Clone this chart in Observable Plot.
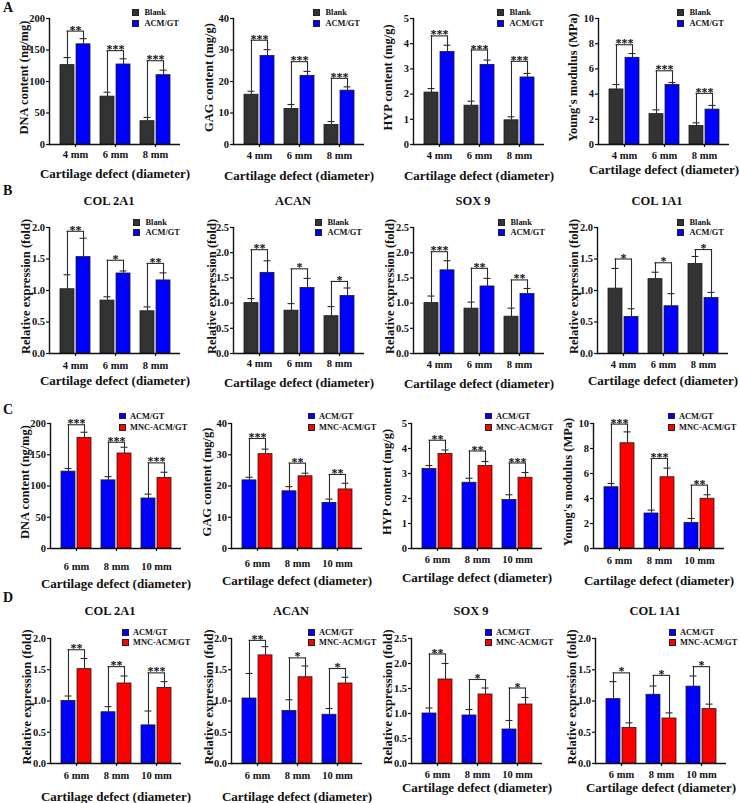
<!DOCTYPE html>
<html>
<head>
<meta charset="utf-8">
<script src="https://cdn.jsdelivr.net/npm/d3@7"></script>
<script src="https://cdn.jsdelivr.net/npm/@observablehq/plot@0.6"></script>
<style>
  body { margin: 0; background: #fff; }
  #fig { position: relative; width: 740px; height: 803px; overflow: hidden;
         font-family: "Liberation Serif", "Times New Roman", serif; font-weight: bold; color: #111; }
  .panel { position: absolute; }
  .letter { position: absolute; font-size: 14px; line-height: 14px; }
  .title { position: absolute; font-size: 12.5px; line-height: 12.5px; white-space: nowrap; transform: translateX(-50%); }
  .leg { position: absolute; font-size: 8.4px; white-space: nowrap; }
  .leg .item { display: flex; align-items: center; }
  .leg .sw { width: 6.5px; height: 6.5px; box-sizing: border-box; border: 0.6px solid #222; }
</style>
</head>
<body>
<div id="fig"></div>
<script>
// ---------------- DATA ----------------
const catsAB = ["4 mm", "6 mm", "8 mm"];
const catsCD = ["6 mm", "8 mm", "10 mm"];
const groupsAB = ["Blank", "ACM/GT"];
const groupsCD = ["ACM/GT", "MNC-ACM/GT"];
const colorsAB = ["#333333", "#0000ff"];
const colorsCD = ["#0000ff", "#ff0000"];
const contentLabels = ["DNA content (ng/mg)", "GAG content (mg/g)", "HYP content (mg/g)", "Young's modulus (MPa)"];
const geneTitles = ["COL 2A1", "ACAN", "SOX 9", "COL 1A1"];
const exprLabel = "Relative expression (fold)";
const xLabel = "Cartilage defect (diameter)";
const panelLetters = ["A", "B", "C", "D"];

// Row A (Blank vs ACM/GT) : means [series][category], sd, bracket height, stars
const A_dna_mean = [[126, 76, 37], [159, 127, 110]];
const A_dna_sd = [[12, 7, 6], [9, 9, 8]];
const A_dna_sig = [180, 149, 133];
const A_dna_stars = ["**", "***", "***"];

const A_gag_mean = [[15.8, 11.3, 6.2], [28.1, 21.8, 17.1]];
const A_gag_sd = [[1.1, 1.4, 1.1], [2.0, 1.4, 1.2]];
const A_gag_sig = [33.1, 26.3, 21.0];
const A_gag_stars = ["***", "***", "***"];

const A_hyp_mean = [[2.06, 1.54, 0.96], [3.67, 3.16, 2.66]];
const A_hyp_sd = [[0.16, 0.18, 0.14], [0.27, 0.19, 0.16]];
const A_hyp_sig = [4.31, 3.75, 3.3];
const A_hyp_stars = ["***", "***", "***"];

const A_ym_mean = [[4.37, 2.41, 1.47], [6.88, 4.72, 2.77]];
const A_ym_sd = [[0.39, 0.34, 0.25], [0.34, 0.2, 0.33]];
const A_ym_sig = [7.92, 5.85, 4.06];
const A_ym_stars = ["***", "***", "***"];

// Row B (Blank vs ACM/GT)
const B_col2_mean = [[1.02, 0.84, 0.67], [1.53, 1.27, 1.16]];
const B_col2_sd = [[0.23, 0.06, 0.07], [0.30, 0.04, 0.12]];
const B_col2_sig = [1.94, 1.48, 1.43];
const B_col2_stars = ["**", "*", "**"];

const B_acan_mean = [[1.0, 0.85, 0.74], [1.6, 1.3, 1.14]];
const B_acan_sd = [[0.09, 0.14, 0.19], [0.24, 0.19, 0.16]];
const B_acan_sig = [2.06, 1.68, 1.43];
const B_acan_stars = ["**", "*", "*"];

const B_sox_mean = [[1.0, 0.89, 0.73], [1.65, 1.33, 1.18]];
const B_sox_sd = [[0.14, 0.13, 0.17], [0.19, 0.16, 0.11]];
const B_sox_sig = [2.02, 1.69, 1.46];
const B_sox_stars = ["***", "**", "**"];

const B_col1_mean = [[1.03, 1.18, 1.42], [0.58, 0.75, 0.88]];
const B_col1_sd = [[0.32, 0.11, 0.12], [0.13, 0.2, 0.09]];
const B_col1_sig = [1.5, 1.44, 1.65];
const B_col1_stars = ["*", "*", "*"];

// Row C (ACM/GT vs MNC-ACM/GT)
const C_dna_mean = [[123, 109, 80], [177, 152, 113]];
const C_dna_sd = [[5, 6, 7], [9, 10, 9]];
const C_dna_sig = [198, 170, 137];
const C_dna_stars = ["***", "***", "***"];

const C_gag_mean = [[21.8, 18.3, 14.6], [30.2, 23.1, 18.9]];
const C_gag_sd = [[1.0, 1.5, 1.2], [1.6, 1.0, 2.0]];
const C_gag_sig = [35.2, 27.3, 23.7];
const C_gag_stars = ["***", "**", "**"];

const C_hyp_mean = [[3.18, 2.63, 1.94], [3.78, 3.3, 2.83]];
const C_hyp_sd = [[0.14, 0.18, 0.21], [0.16, 0.18, 0.21]];
const C_hyp_sig = [4.33, 3.9, 3.42];
const C_hyp_stars = ["**", "**", "***"];

const C_ym_mean = [[4.9, 2.8, 2.05], [8.42, 5.7, 3.98]];
const C_ym_sd = [[0.3, 0.27, 0.35], [0.91, 0.73, 0.32]];
const C_ym_sig = [9.95, 7.2, 5.07];
const C_ym_stars = ["***", "***", "**"];

// Row D (ACM/GT vs MNC-ACM/GT)
const D_col2_mean = [[1.0, 0.82, 0.61], [1.51, 1.28, 1.21]];
const D_col2_sd = [[0.08, 0.09, 0.23], [0.17, 0.12, 0.1]];
const D_col2_sig = [1.82, 1.55, 1.45];
const D_col2_stars = ["**", "**", "***"];

const D_acan_mean = [[1.04, 0.84, 0.78], [1.73, 1.38, 1.28]];
const D_acan_sd = [[0.4, 0.18, 0.1], [0.14, 0.18, 0.1]];
const D_acan_sig = [1.97, 1.69, 1.52];
const D_acan_stars = ["**", "*", "*"];

const D_sox_mean = [[1.0, 0.96, 0.68], [1.68, 1.38, 1.18]];
const D_sox_sd = [[0.11, 0.12, 0.18], [0.32, 0.13, 0.14]];
const D_sox_sig = [2.19, 1.68, 1.51];
const D_sox_stars = ["**", "*", "*"];

const D_col1_mean = [[1.03, 1.1, 1.23], [0.57, 0.72, 0.87]];
const D_col1_sd = [[0.28, 0.14, 0.17], [0.08, 0.09, 0.08]];
const D_col1_sig = [1.45, 1.41, 1.55];
const D_col1_stars = ["*", "*", "*"];

// y-axis domains and tick steps
const yMaxA = [200, 40, 5, 10];
const yStepA = [50, 10, 1, 2];
const yMaxB = [2.0, 2.5, 2.5, 2.0];
const yMaxD = [2.0, 2.0, 2.5, 2.0];

// ---------------- LAYOUT ----------------
const rowTop = {A: 18, B: 227, C: 423, D: 638};
const rowH = {A: 126, B: 126, C: 125, D: 125};
const colAxis = {A: [48.5, 233, 413, 598], B: [49, 233, 413, 597], C: [50, 231, 411, 593], D: [50, 231, 411, 595]};
const tickLabY = {A: [10.5, 11.5, 11.5, 11.5], B: [12.3, 10.5, 11.3, 11.3], C: [18, 15.5, 11.5, 12], D: [12, 12, 11, 11]};
const xLabY = {A: [29.5, 31.5, 31.5, 25], B: [27.5, 29, 30, 27.5], C: [35, 32.5, 29, 32], D: [33.5, 33.5, 24.5, 24.5]};
const legX = {A: [83.5, 80, 84, 79], B: [84, 82, 85, 80], C: [69, 77, 74, 75], D: [72, 77, 74, 74]};
const legY = {A: [-5.5, 10.8], B: [-4.3, 9.6], C: [-7, 11.5], D: [-5.4, 10]};
const legGap = {A: 6, B: 6, C: 4.5, D: 4.5};
const yLabDx = {A: [-26, -25, -26, -26], B: [-24, -22, -24, -24], C: [-26, -25, -25, -26], D: [-24, -23, -24, -24]};
const letterTop = {A: 1, B: 184.3, C: 403.3, D: 591.3};
const titleTop = {B: 194.5, D: 604.5};

const fmtInt = d => String(d);
const fmt1 = d3.format(".1f");

const panels = [
  {row: "A", col: 0, mean: A_dna_mean, sd: A_dna_sd, sig: A_dna_sig, stars: A_dna_stars},
  {row: "A", col: 1, mean: A_gag_mean, sd: A_gag_sd, sig: A_gag_sig, stars: A_gag_stars},
  {row: "A", col: 2, mean: A_hyp_mean, sd: A_hyp_sd, sig: A_hyp_sig, stars: A_hyp_stars},
  {row: "A", col: 3, mean: A_ym_mean, sd: A_ym_sd, sig: A_ym_sig, stars: A_ym_stars},
  {row: "B", col: 0, mean: B_col2_mean, sd: B_col2_sd, sig: B_col2_sig, stars: B_col2_stars},
  {row: "B", col: 1, mean: B_acan_mean, sd: B_acan_sd, sig: B_acan_sig, stars: B_acan_stars},
  {row: "B", col: 2, mean: B_sox_mean, sd: B_sox_sd, sig: B_sox_sig, stars: B_sox_stars},
  {row: "B", col: 3, mean: B_col1_mean, sd: B_col1_sd, sig: B_col1_sig, stars: B_col1_stars},
  {row: "C", col: 0, mean: C_dna_mean, sd: C_dna_sd, sig: C_dna_sig, stars: C_dna_stars},
  {row: "C", col: 1, mean: C_gag_mean, sd: C_gag_sd, sig: C_gag_sig, stars: C_gag_stars},
  {row: "C", col: 2, mean: C_hyp_mean, sd: C_hyp_sd, sig: C_hyp_sig, stars: C_hyp_stars},
  {row: "C", col: 3, mean: C_ym_mean, sd: C_ym_sd, sig: C_ym_sig, stars: C_ym_stars},
  {row: "D", col: 0, mean: D_col2_mean, sd: D_col2_sd, sig: D_col2_sig, stars: D_col2_stars},
  {row: "D", col: 1, mean: D_acan_mean, sd: D_acan_sd, sig: D_acan_sig, stars: D_acan_stars},
  {row: "D", col: 2, mean: D_sox_mean, sd: D_sox_sd, sig: D_sox_sig, stars: D_sox_stars},
  {row: "D", col: 3, mean: D_col1_mean, sd: D_col1_sd, sig: D_col1_sig, stars: D_col1_stars}
];

const fig = document.getElementById("fig");
const ink = "#111";
const FONT = "'Liberation Serif', 'Times New Roman', serif";

function drawPanel(p) {
  const isContent = p.row === "A" || p.row === "C";
  const cats = (p.row === "A" || p.row === "B") ? catsAB : catsCD;
  const groups = (p.row === "A" || p.row === "B") ? groupsAB : groupsCD;
  const colors = (p.row === "A" || p.row === "B") ? colorsAB : colorsCD;
  let yMax, ticks, tf, yLabel;
  if (isContent) {
    yMax = yMaxA[p.col];
    ticks = d3.range(0, yMax + 1e-9, yStepA[p.col]);
    tf = fmtInt;
    yLabel = contentLabels[p.col];
  } else {
    yMax = (p.row === "B" ? yMaxB : yMaxD)[p.col];
    ticks = d3.range(0, yMax + 1e-9, 0.5);
    tf = fmt1;
    yLabel = exprLabel;
  }
  const mL = 60, mR = 70, mT = 30, mB = 50, axisLen = 131;
  const H = rowH[p.row];
  const width = mL + axisLen + mR, height = mT + H + mB;
  const xOpts = {type: "band", domain: cats, range: [mL, mL + axisLen], paddingInner: 0.25, paddingOuter: 0.26};
  const bw = Plot.scale({x: xOpts}).bandwidth;
  const half = bw / 2, off = (half + 1) / 2, capHalf = 3.5;

  const bars = [], pairs = [];
  cats.forEach((c, i) => {
    for (let s = 0; s < 2; s++) bars.push({cat: c, s, mean: p.mean[s][i], top: p.mean[s][i] + p.sd[s][i]});
    pairs.push({cat: c, t0: p.mean[0][i] + p.sd[0][i], t1: p.mean[1][i] + p.sd[1][i], sig: p.sig[i], star: p.stars[i]});
  });
  const S0 = bars.filter(d => d.s === 0), S1 = bars.filter(d => d.s === 1);
  const lw = 1.1;

  const svg = Plot.plot({
    width, height, marginLeft: mL, marginRight: mR, marginTop: mT, marginBottom: mB,
    style: {background: "transparent", overflow: "visible", fontFamily: FONT, fontWeight: "bold", fontSize: "10.5px", color: ink, maxWidth: "none"},
    x: xOpts,
    y: {domain: [0, yMax]},
    marks: [
      Plot.barY(S0, {x: "cat", y: "mean", fill: colors[0], stroke: "#1a1a1a", strokeWidth: 0.8, insetRight: half + 1}),
      Plot.barY(S1, {x: "cat", y: "mean", fill: colors[1], stroke: "#1a1a1a", strokeWidth: 0.8, insetLeft: half + 1}),
      // error bars
      Plot.ruleX(S0, {x: "cat", y1: "mean", y2: "top", dx: -off, stroke: "#2a2a2a", strokeWidth: lw}),
      Plot.ruleX(S1, {x: "cat", y1: "mean", y2: "top", dx: off, stroke: "#2a2a2a", strokeWidth: lw}),
      Plot.tickY(S0, {x: "cat", y: "top", insetLeft: half - off - capHalf, insetRight: half + off - capHalf, stroke: "#2a2a2a", strokeWidth: lw}),
      Plot.tickY(S1, {x: "cat", y: "top", insetLeft: half + off - capHalf, insetRight: half - off - capHalf, stroke: "#2a2a2a", strokeWidth: lw}),
      // significance brackets
      Plot.ruleX(pairs, {x: "cat", y1: "t0", y2: "sig", dx: -off, stroke: "#2a2a2a", strokeWidth: lw}),
      Plot.ruleX(pairs, {x: "cat", y1: "t1", y2: "sig", dx: off, stroke: "#2a2a2a", strokeWidth: lw}),
      Plot.tickY(pairs, {x: "cat", y: "sig", insetLeft: half - off - 0.5, insetRight: half - off - 0.5, stroke: "#2a2a2a", strokeWidth: lw}),
      Plot.text(pairs, {x: "cat", y: "sig", text: "star", lineAnchor: "bottom", dy: 2.5, fontSize: 12}),
      // axes
      Plot.ruleY([0], {stroke: ink, strokeWidth: 1.4}),
      Plot.frame({anchor: "left", stroke: ink, strokeWidth: 1.4}),
      Plot.axisX({tickSize: 3, tickPadding: tickLabY[p.row][p.col] - 7, fontSize: 10.5, label: null, strokeWidth: 1.2}),
      Plot.axisY({ticks, tickFormat: tf, tickSize: 3, tickPadding: 1.5, fontSize: 10.5, label: null, strokeWidth: 1.2}),
      Plot.text([xLabel], {text: d => d, frameAnchor: "bottom", lineAnchor: "middle", textAnchor: "middle", dy: xLabY[p.row][p.col], fontSize: 13}),
      Plot.text([yLabel], {text: d => d, frameAnchor: "left", textAnchor: "middle", lineAnchor: "middle", rotate: -90, dx: yLabDx[p.row][p.col], dy: -4, fontSize: 12.5})
    ]
  });

  const axisX0 = colAxis[p.row][p.col];
  const top0 = rowTop[p.row];
  const wrap = document.createElement("div");
  wrap.className = "panel";
  wrap.style.left = (axisX0 - mL) + "px";
  wrap.style.top = (top0 - mT) + "px";
  wrap.appendChild(svg);
  fig.appendChild(wrap);

  // legend
  const [c0, gap] = legY[p.row];
  const leg = document.createElement("div");
  leg.className = "leg";
  leg.style.left = (axisX0 + legX[p.row][p.col]) + "px";
  leg.style.top = (top0 + c0 - gap / 2) + "px";
  groups.forEach((g, i) => {
    const it = document.createElement("div");
    it.className = "item";
    it.style.height = gap + "px";
    const sw = document.createElement("span");
    sw.className = "sw";
    sw.style.background = colors[i];
    sw.style.marginRight = legGap[p.row] + "px";
    const t = document.createElement("span");
    t.textContent = g;
    it.appendChild(sw); it.appendChild(t);
    leg.appendChild(it);
  });
  fig.appendChild(leg);

  // gene title
  if (!isContent) {
    const t = document.createElement("div");
    t.className = "title";
    t.textContent = geneTitles[p.col];
    t.style.left = (axisX0 + 60) + "px";
    t.style.top = titleTop[p.row] + "px";
    fig.appendChild(t);
  }
}

panels.forEach(drawPanel);

panelLetters.forEach(L => {
  const d = document.createElement("div");
  d.className = "letter";
  d.textContent = L;
  d.style.left = "3px";
  d.style.top = letterTop[L] + "px";
  fig.appendChild(d);
});
</script>
</body>
</html>
